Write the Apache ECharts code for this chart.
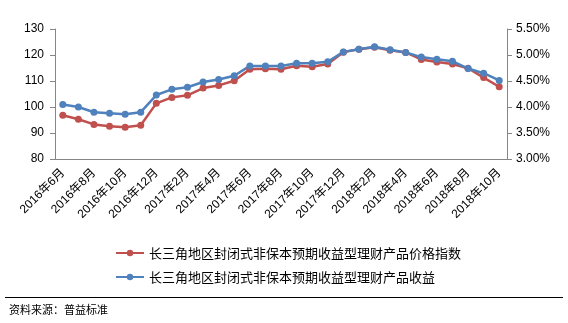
<!DOCTYPE html>
<html>
<head>
<meta charset="utf-8">
<script src="https://cdn.jsdelivr.net/npm/echarts@6/dist/echarts.min.js"></script>
<style>
  html, body { margin: 0; padding: 0; background: #fff; }
  #chart { width: 568px; height: 323px; }
</style>
</head>
<body>
<div id="chart"></div>
<script>
// Monthly observations, 2016年6月 – 2018年10月
const months = [
  '2016年6月','2016年7月','2016年8月','2016年9月','2016年10月','2016年11月','2016年12月',
  '2017年1月','2017年2月','2017年3月','2017年4月','2017年5月','2017年6月','2017年7月',
  '2017年8月','2017年9月','2017年10月','2017年11月','2017年12月','2018年1月','2018年2月',
  '2018年3月','2018年4月','2018年5月','2018年6月','2018年7月','2018年8月','2018年9月','2018年10月'
];

// 价格指数 (left axis)
const priceIndex = [
  96.8, 95.3, 93.3, 92.6, 92.2, 93.0, 101.4, 103.7, 104.5, 107.3,
  108.3, 110.1, 114.5, 114.7, 114.5, 115.9, 115.5, 116.5, 121.1, 122.2,
  123.0, 121.8, 121.0, 118.3, 117.3, 116.5, 114.9, 111.3, 107.8
];

// 收益 in % (right axis)
const yieldPct = [
  4.05, 4.00, 3.90, 3.88, 3.86, 3.90, 4.23, 4.34, 4.38, 4.48,
  4.53, 4.60, 4.79, 4.79, 4.79, 4.84, 4.84, 4.87, 5.06, 5.11,
  5.16, 5.10, 5.05, 4.96, 4.92, 4.88, 4.74, 4.65, 4.51
];

const seriesNames = [
  '长三角地区封闭式非保本预期收益型理财产品价格指数',
  '长三角地区封闭式非保本预期收益型理财产品收益'
];

const leftTicks = { min: 80, max: 130, interval: 10 };
const rightTicks = { min: 3.0, max: 5.5, interval: 0.5 };

const RED = '#C0504D';
const BLUE = '#4F81BD';
const AXIS = '#868686';
const labelFont = { color: '#000', fontSize: 12, fontFamily: 'Liberation Sans, Arial, "Noto Sans CJK SC", sans-serif' };

const chart = echarts.init(document.getElementById('chart'), null, { renderer: 'canvas' });

chart.setOption({
  animation: false,
  backgroundColor: '#fff',
  grid: { left: 55, right: 61, top: 29, bottom: 164, containLabel: false },
  legend: {
    orient: 'vertical',
    left: 110,
    top: 241,
    itemWidth: 28,
    itemHeight: 8,
    itemGap: 10,
    textStyle: { color: '#000', fontSize: 13, lineHeight: 14, fontFamily: '"Noto Sans CJK SC", sans-serif' },
    data: seriesNames
  },
  xAxis: {
    type: 'category',
    data: months,
    boundaryGap: true,
    axisLine: { lineStyle: { color: AXIS, width: 1 } },
    axisTick: { interval: 1, length: 5, lineStyle: { color: AXIS } },
    axisLabel: Object.assign({ interval: 1, rotate: 45, margin: 12 }, labelFont),
    splitLine: { show: false }
  },
  yAxis: [
    {
      type: 'value',
      min: leftTicks.min, max: leftTicks.max, interval: leftTicks.interval,
      axisLine: { show: true, lineStyle: { color: AXIS } },
      axisTick: { show: true, length: 5, lineStyle: { color: AXIS } },
      axisLabel: Object.assign({ margin: 11 }, labelFont),
      splitLine: { show: false }
    },
    {
      type: 'value',
      position: 'right',
      min: rightTicks.min, max: rightTicks.max, interval: rightTicks.interval,
      axisLine: { show: true, lineStyle: { color: AXIS } },
      axisTick: { show: true, length: 5, lineStyle: { color: AXIS } },
      axisLabel: Object.assign({ margin: 9, formatter: v => v.toFixed(2) + '%' }, labelFont),
      splitLine: { show: false }
    }
  ],
  series: [
    {
      name: seriesNames[0],
      type: 'line',
      yAxisIndex: 0,
      data: priceIndex,
      symbol: 'circle',
      symbolSize: 7,
      itemStyle: { color: RED },
      lineStyle: { color: RED, width: 2.5 }
    },
    {
      name: seriesNames[1],
      type: 'line',
      yAxisIndex: 1,
      data: yieldPct,
      symbol: 'circle',
      symbolSize: 7,
      itemStyle: { color: BLUE },
      lineStyle: { color: BLUE, width: 2.5 }
    }
  ],
  graphic: [
    {
      type: 'line',
      shape: { x1: 5, y1: 297.5, x2: 563, y2: 297.5 },
      style: { stroke: '#000', lineWidth: 1 }
    },
    {
      type: 'text',
      left: 9,
      top: 304,
      style: { text: '资料来源：普益标准', fill: '#000', fontSize: 11, fontFamily: '"Noto Sans CJK SC", sans-serif' }
    }
  ]
});
</script>
</body>
</html>
